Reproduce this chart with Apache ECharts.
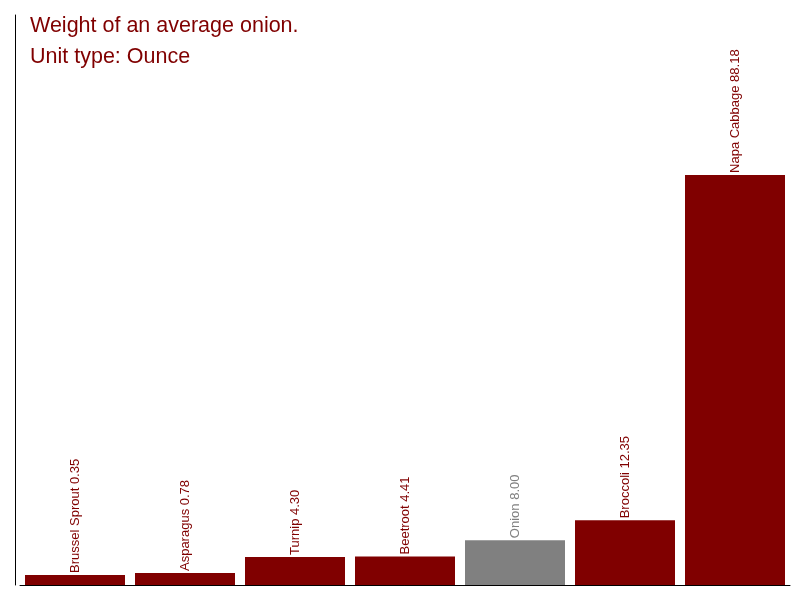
<!DOCTYPE html>
<html>
<head>
<meta charset="utf-8">
<script src="https://cdn.jsdelivr.net/npm/echarts@6/dist/echarts.min.js"></script>
<style>
  html, body { margin: 0; padding: 0; background: #fff; }
  #main { width: 800px; height: 600px; }
</style>
</head>
<body>
<div id="main"></div>
<script>
// 数据
var categories = ['Brussel Sprout', 'Asparagus', 'Turnip', 'Beetroot', 'Onion', 'Broccoli', 'Napa Cabbage']
var weights = [0.35, 0.78, 4.30, 4.41, 8.00, 12.35, 88.18]
var highlight = 'Onion'

var red = '#800000'
var grey = '#808080'

var chart = echarts.init(document.getElementById('main'))

var barData = categories.map(function (name, i) {
  var c = name === highlight ? grey : red
  return {
    value: weights[i],
    itemStyle: { color: c },
    label: { color: c }
  }
})

var option = {
  animation: false,
  title: {
    text: 'Weight of an average onion.',
    subtext: 'Unit type: Ounce',
    left: 25,
    top: 10,
    itemGap: 9,
    textStyle: {
      color: red,
      fontSize: 21.5,
      fontWeight: 'normal',
      fontFamily: 'Liberation Sans'
    },
    subtextStyle: {
      color: red,
      fontSize: 21.5,
      fontFamily: 'Liberation Sans'
    }
  },
  grid: {
    left: 20,
    right: 10,
    top: 15,
    bottom: 15,
    containLabel: false
  },
  xAxis: {
    type: 'category',
    data: categories,
    axisLine: { show: true, onZero: false, lineStyle: { color: '#000', width: 1 } },
    axisTick: { show: false },
    axisLabel: { show: false },
    splitLine: { show: false }
  },
  yAxis: {
    type: 'value',
    min: -1.85,
    max: 123.3,
    startValue: -1.85,
    offset: 5,
    axisLine: { show: true, lineStyle: { color: '#000', width: 1 } },
    axisTick: { show: false },
    axisLabel: { show: false },
    splitLine: { show: false }
  },
  series: [{
    type: 'bar',
    data: barData,
    barWidth: 100,
    label: {
      show: true,
      position: 'top',
      rotate: 90,
      align: 'left',
      verticalAlign: 'middle',
      distance: 1,
      offset: [1, 0],
      fontSize: 13,
      fontFamily: 'Liberation Sans',
      formatter: function (p) {
        return p.name + ' ' + p.value.toFixed(2)
      }
    }
  }]
}

chart.setOption(option)
</script>
</body>
</html>
